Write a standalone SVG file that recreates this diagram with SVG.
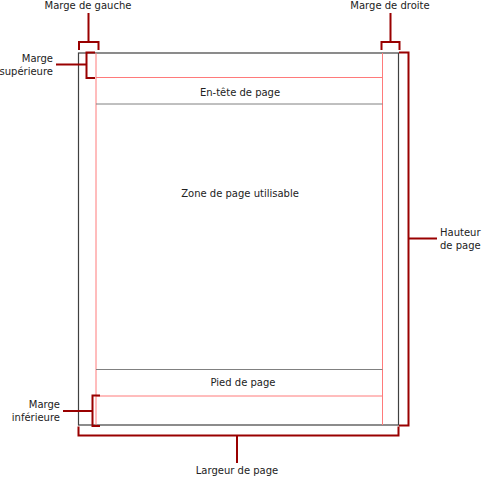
<svg xmlns="http://www.w3.org/2000/svg" width="484" height="478" viewBox="0 0 484 478">
<style>
text{font-family:"DejaVu Sans","Verdana",sans-serif;font-size:10px;fill:#222}
.m{text-anchor:middle}
.e{text-anchor:end}
.page{fill:#fff;stroke:#404040;stroke-width:1.2}
.pink{stroke:#ff7a7a;stroke-width:1;fill:none}
.gray{stroke:#808080;stroke-width:1;fill:none}
.br{stroke:#990000;stroke-width:2;fill:none}
</style>
<rect width="484" height="478" fill="#fff"/>
<g id="page">
<rect class="page" x="78.5" y="53" width="320" height="372"/>
<line class="pink" x1="96" y1="53" x2="96" y2="425"/>
<line class="pink" x1="382.5" y1="53" x2="382.5" y2="425"/>
<line class="pink" x1="96" y1="77.5" x2="382.5" y2="77.5"/>
<line class="pink" x1="96" y1="396" x2="382.5" y2="396"/>
</g>
<g id="header">
<line class="gray" x1="96" y1="104" x2="382.5" y2="104"/>
<text class="m" x="240" y="96">En-tête de page</text>
</g>
<g id="body">
<text class="m" x="240" y="197">Zone de page utilisable</text>
</g>
<g id="footer">
<line class="gray" x1="96" y1="369.5" x2="382.5" y2="369.5"/>
<text class="m" x="243" y="386">Pied de page</text>
</g>
<g id="connectors">
<path class="br" d="M79 50V42H98.5V50M88.5 42V13"/>
<path class="br" d="M381.5 50V42H399.5V50M390.5 42V13"/>
<path class="br" d="M95 52.5H86.5V78H95M86.5 64.5H56"/>
<path class="br" d="M100 395.5H92.5V426H100M92.5 411H63"/>
<path class="br" d="M399 52.5H408.5V425.5H399M408.5 238.5H437"/>
<path class="br" d="M78.5 426.5V435.5H398.5V426.5M237 435.5V463"/>
</g>
<g id="labels">
<text class="m" x="88" y="9">Marge de gauche</text>
<text class="m" x="390" y="9">Marge de droite</text>
<text class="e" x="53" y="62">Marge</text>
<text class="e" x="53" y="75">supérieure</text>
<text class="e" x="60" y="408">Marge</text>
<text class="e" x="60" y="421">inférieure</text>
<text x="440" y="236">Hauteur</text>
<text x="440" y="249">de page</text>
<text class="m" x="237" y="474">Largeur de page</text>
</g>
</svg>
